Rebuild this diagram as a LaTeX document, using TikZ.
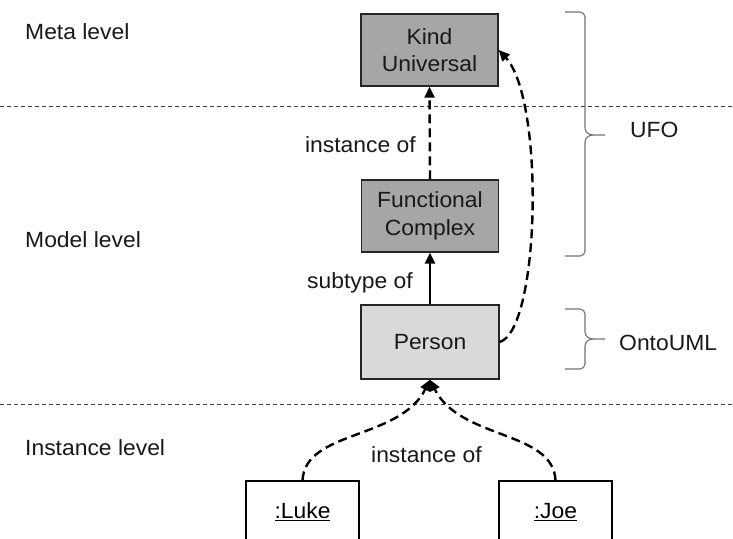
\documentclass[tikz,border=0pt]{standalone}
\usepackage{fontspec}
\setmainfont[FakeStretch=1.04]{Liberation Sans}
\usetikzlibrary{arrows.meta}
\begin{document}
\begin{tikzpicture}[x=1pt,y=-1pt,
  txt/.style={font=\fontsize{22}{27.5}\selectfont, text=black!90, inner sep=0pt},
  cls/.style={draw=black!85, line width=1.4pt, inner sep=0pt, align=center,
              font=\fontsize{22}{27.5}\selectfont, text=black!90},
  dark/.style={cls, fill=black!35, minimum width=137pt, minimum height=72pt},
  light/.style={cls, fill=black!15, minimum width=138pt, minimum height=74pt},
  obj/.style={draw=black, line width=1.2pt, fill=white, inner sep=0pt,
              font=\fontsize{22}{27.5}\selectfont, minimum width=113pt, minimum height=62pt},
  levelline/.style={draw=black!75, line width=0.9pt, dash pattern=on 4pt off 3pt},
  arr/.style={line width=2.4pt, -{Triangle[length=11pt,width=10pt]}},
  dsh/.style={dash pattern=on 9pt off 5pt},
  brace/.style={draw=black!55, line width=1.1pt}
]
\clip (0,0) rectangle (733,538);
\fill[white] (0,0) rectangle (733,538);

% level separators
\draw[levelline] (0,106) -- (733,106);
\draw[levelline] (0,404) -- (733,404);

% level labels
\node[txt, anchor=base west] (meta) at (25,39) {Meta level};
\node[txt, anchor=base west] (model) at (25,247) {Model level};
\node[txt, anchor=base west] (inst) at (25,455) {Instance level};

% classes
\node[dark] (ku) at (429.5,50) {Kind\\Universal};
\node[dark] (fc) at (430,216) {Functional\\Complex};
\node[light] (person) at (430,342) {Person};
\node[obj] (luke) at (302.5,512) {\underline{:Luke}};
\node[obj] (joe) at (555.5,512) {\underline{:Joe}};

% connectors
\draw[arr, dsh] (fc.north) -- (ku.south);
\draw[arr] (person.north) -- (fc.south);
\draw[arr, dsh] (person.east) .. controls (540,330) and (545,100) .. (ku.east);
\draw[arr, dsh] (luke.north) .. controls (305,430) and (400,440) .. (person.south);
\draw[arr, dsh] (joe.north) .. controls (553,430) and (460,440) .. (person.south);

% connector labels
\node[txt, anchor=base east] (l1) at (416,152) {instance of};
\node[txt, anchor=base east] (l2) at (413,288) {subtype of};
\node[txt, anchor=base] (l3) at (426.5,462) {instance of};

% braces
\draw[brace] (565,12) -- (580,12) to[out=0,in=90] (585,17) -- (585,128)
  to[out=-90,in=180] (593,135) -- (605,135);
\draw[brace] (593,135) to[out=180,in=90] (585,142) -- (585,251)
  to[out=-90,in=0] (580,256) -- (565,256);
\draw[brace] (565,309) -- (580,309) to[out=0,in=90] (585,314) -- (585,332)
  to[out=-90,in=180] (593,339) -- (605,339);
\draw[brace] (593,339) to[out=180,in=90] (585,346) -- (585,364)
  to[out=-90,in=0] (580,369) -- (565,369);

\node[txt, anchor=base west] (ufo) at (630,137) {UFO};
\node[txt, anchor=base west] (onto) at (619,350) {OntoUML};
\end{tikzpicture}
\end{document}
